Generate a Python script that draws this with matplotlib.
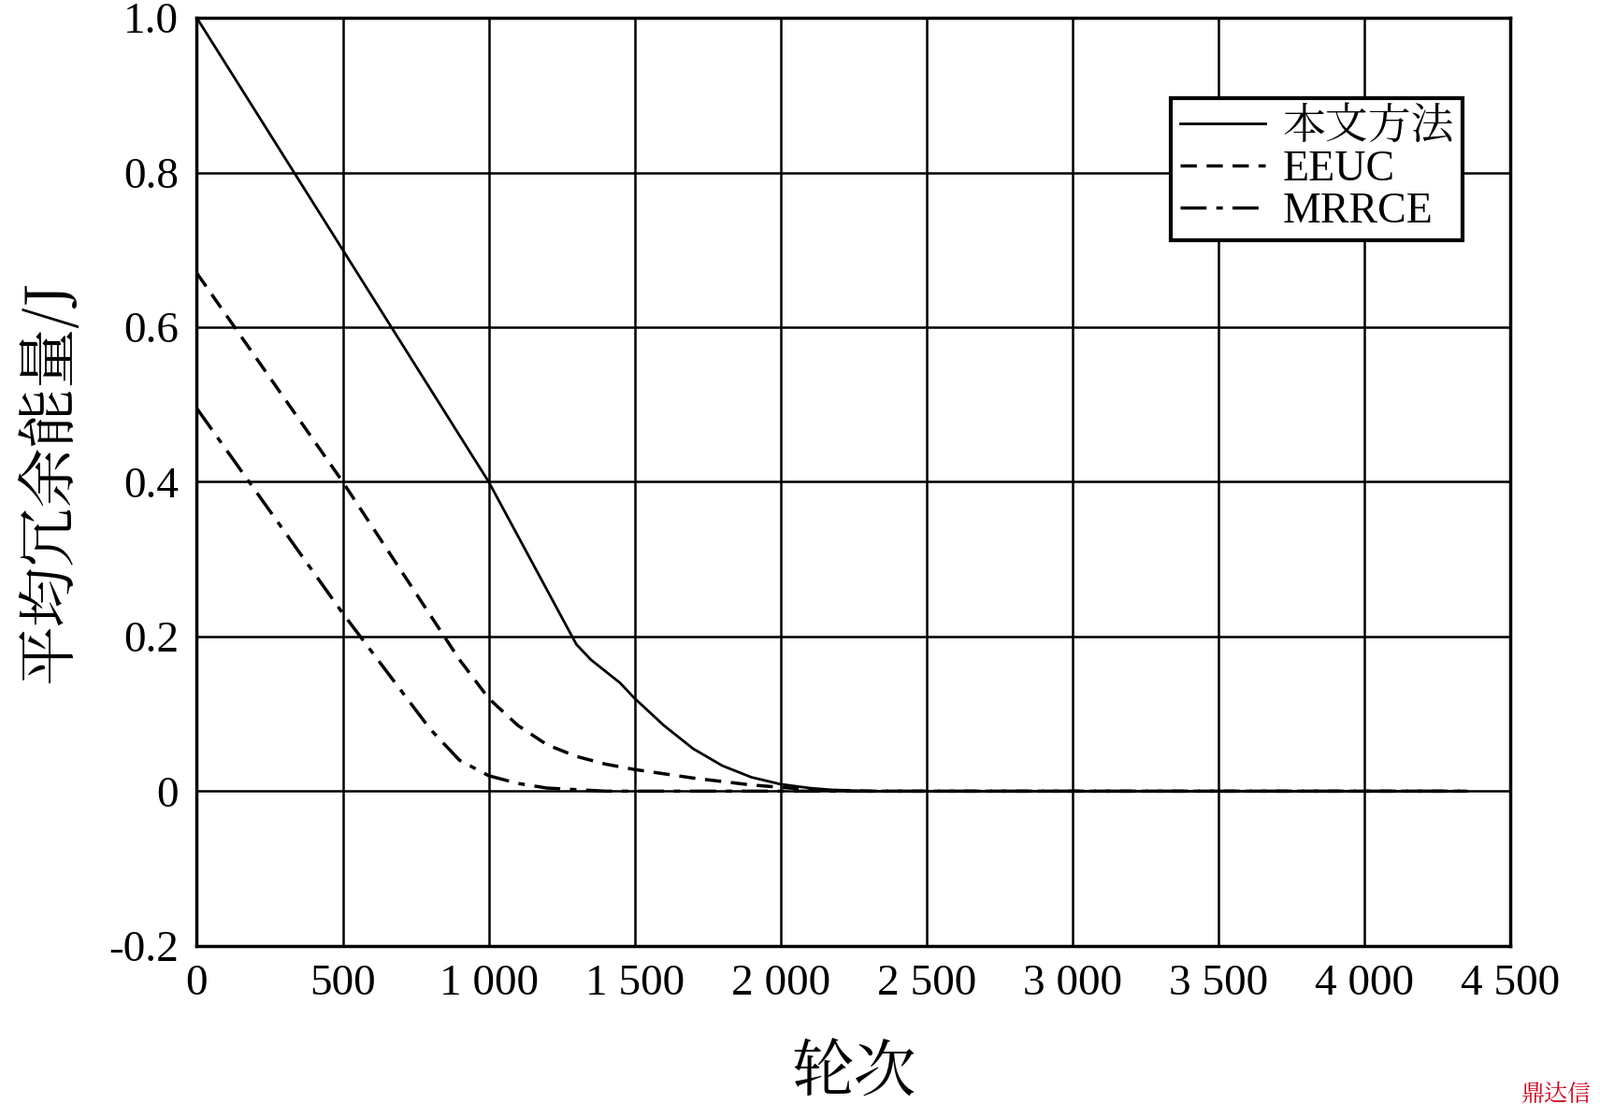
import matplotlib
matplotlib.use("Agg")
import matplotlib.pyplot as plt
from matplotlib import font_manager as fm

ours_x = [0, 500, 1000, 1300, 1350, 1450, 1500, 1600, 1700, 1800, 1900, 2000, 2100, 2200, 2300, 3000, 4000, 4350]
ours_y = [1.0, 0.7, 0.4, 0.19, 0.17, 0.14, 0.12, 0.085, 0.055, 0.033, 0.018, 0.009, 0.004, 0.001, 0.0, 0.0, 0.0, 0.0]
eeuc_x = [0, 500, 900, 1000, 1100, 1200, 1300, 1400, 1500, 1700, 1900, 2100, 2300, 4350]
eeuc_y = [0.67, 0.40, 0.17, 0.12, 0.085, 0.06, 0.045, 0.035, 0.028, 0.017, 0.008, 0.002, 0.0, 0.0]
mrrce_x = [0, 500, 800, 900, 1000, 1100, 1200, 1400, 4350]
mrrce_y = [0.495, 0.23, 0.08, 0.04, 0.02, 0.01, 0.004, 0.0, 0.0]
xticks = [0, 500, 1000, 1500, 2000, 2500, 3000, 3500, 4000, 4500]
xticklabels = ["0", "500", "1 000", "1 500", "2 000", "2 500", "3 000", "3 500", "4 000", "4 500"]
yticks = [-0.2, 0, 0.2, 0.4, 0.6, 0.8, 1.0]
yticklabels = ["-0.2", "0", "0.2", "0.4", "0.6", "0.8", "1.0"]

serif = "Liberation Serif"
cjk_file = None
for f in fm.findSystemFonts():
    if "CJK" in f and ("Regular" in f or "SC" in f):
        cjk_file = f
        break
if cjk_file is None:
    for f in fm.findSystemFonts():
        if "CJK" in f:
            cjk_file = f
            break
if cjk_file:
    fm.fontManager.addfont(cjk_file)
    cjk_name = fm.FontProperties(fname=cjk_file).get_name()
else:
    cjk_name = "Noto Sans CJK SC"

def cjkprop(size, weight="normal"):
    if cjk_file:
        return fm.FontProperties(fname=cjk_file, size=size, weight=weight)
    return fm.FontProperties(family=cjk_name, size=size, weight=weight)

plt.rcParams["font.family"] = [serif, cjk_name]

fig = plt.figure(figsize=(17.11, 11.96), dpi=100)
ax = fig.add_axes([0.123, 0.154, 0.821, 0.83])
ax.plot(ours_x, ours_y, color="black", lw=2, ls="-", label="本文方法")
ax.plot(eeuc_x, eeuc_y, color="black", lw=2.5, ls=(0, (5, 3)), label="EEUC")
ax.plot(mrrce_x, mrrce_y, color="black", lw=2.5, ls=(0, (8, 3, 2, 3)), label="MRRCE")
ax.set_xlim(0, 4500)
ax.set_ylim(-0.2, 1.0)
ax.set_xticks(xticks)
ax.set_yticks(yticks)
ax.set_xticklabels(xticklabels, fontfamily=serif, fontsize=34)
ax.set_yticklabels(yticklabels, fontfamily=serif, fontsize=34)
ax.tick_params(length=0, pad=14)
ax.grid(True, color="black", lw=1.8)
for s in ax.spines.values():
    s.set_linewidth(2.5)
ax.set_xlabel("轮次", fontproperties=cjkprop(48, "bold"), labelpad=28)
ax.set_ylabel("平均冗余能量/J", fontproperties=cjkprop(46), labelpad=20)
leg = ax.legend(loc="upper right", bbox_to_anchor=(0.98, 0.937),
                prop={"family": [serif, cjk_name], "size": 33},
                fancybox=False, framealpha=1, edgecolor="black", handlelength=2.0,
                borderpad=0.2, labelspacing=0.05, handletextpad=0.4)
leg.get_frame().set_linewidth(3)
fig.text(0.995, 0.01, "鼎达信", color="#d0021b", fontproperties=cjkprop(18, "bold"), ha="right", va="bottom")
fig.savefig("out.png", dpi=100)
